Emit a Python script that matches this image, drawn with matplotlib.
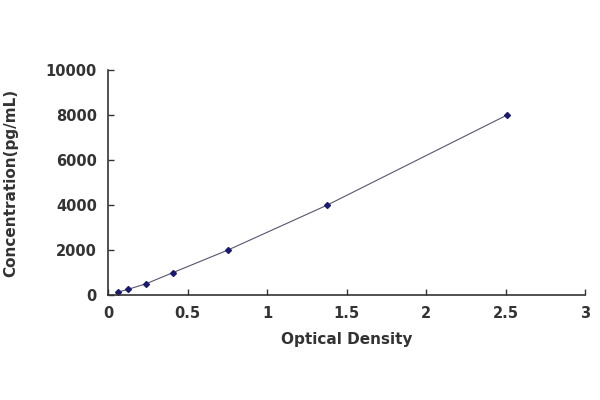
import matplotlib
matplotlib.use("Agg")
import matplotlib.pyplot as plt

# standard curve points
optical_density = [0.06, 0.125, 0.24, 0.41, 0.755, 1.38, 2.51]
concentration = [125, 250, 500, 1000, 2000, 4000, 8000]

x_ticks = [0, 0.5, 1, 1.5, 2, 2.5, 3]
x_tick_labels = ["0", "0.5", "1", "1.5", "2", "2.5", "3"]
y_ticks = [0, 2000, 4000, 6000, 8000, 10000]

plt.rcParams["font.family"] = ["DejaVu Sans"]

fig = plt.figure(figsize=(6, 4), dpi=100)
ax = fig.add_axes([0.18, 0.2625, 0.795, 0.5625])

ax.plot(optical_density, concentration, color="#55556f", linewidth=0.8)
ax.plot(optical_density, concentration, linestyle="none", marker="D",
        markersize=3, color="#1a1a6e")

ax.set_xlim(0, 3)
ax.set_ylim(0, 10000)
ax.set_xticks(x_ticks)
ax.set_xticklabels(x_tick_labels)
ax.set_yticks(y_ticks)

for side in ["top", "right"]:
    ax.spines[side].set_visible(False)
for side in ["left", "bottom"]:
    ax.spines[side].set_linewidth(1.2)
    ax.spines[side].set_color("#333333")

ax.tick_params(direction="in", length=4, width=1, colors="#333333",
               labelsize=10.5, pad=8)
for lab in ax.get_xticklabels() + ax.get_yticklabels():
    lab.set_fontweight("bold")
    lab.set_color("#333333")

ax.set_xlabel("Optical Density", fontsize=11, fontweight="bold",
              color="#333333", labelpad=8)
ax.set_ylabel("Concentration(pg/mL)", fontsize=11, fontweight="bold",
              color="#333333", labelpad=20)

fig.savefig("out.png", dpi=100)
